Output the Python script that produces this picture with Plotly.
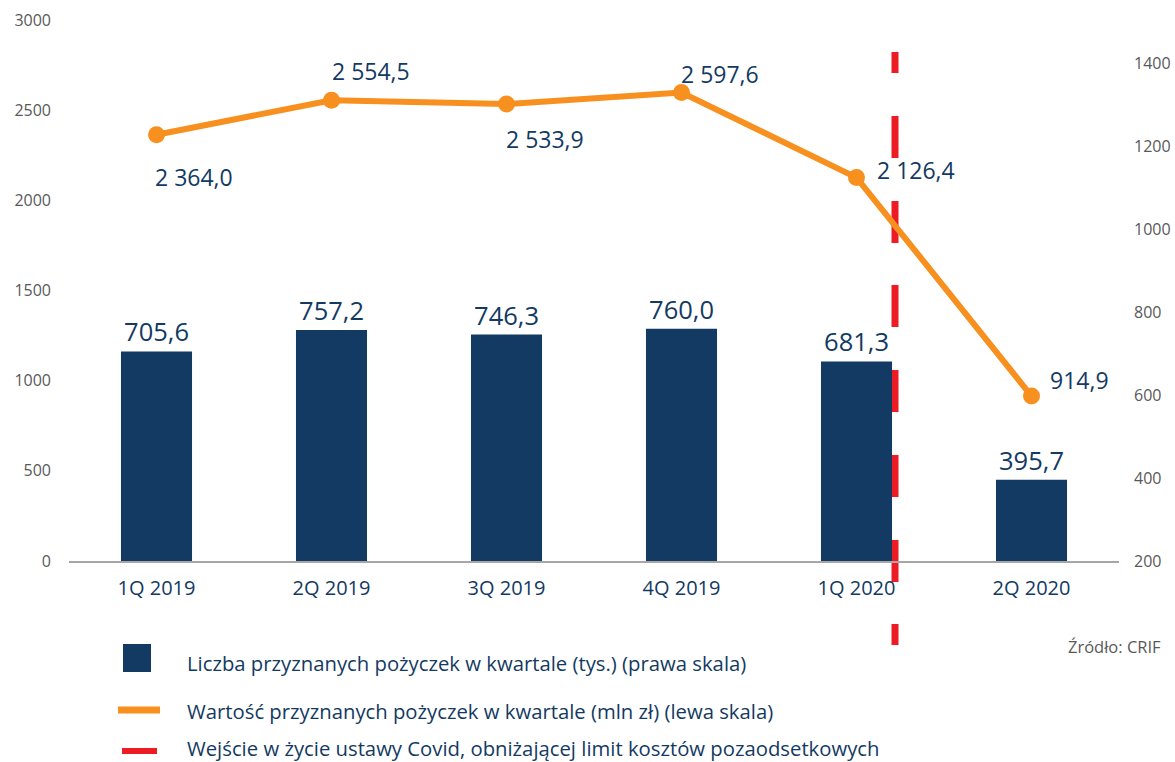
import plotly.graph_objects as go

quarters = ["1Q 2019", "2Q 2019", "3Q 2019", "4Q 2019", "1Q 2020", "2Q 2020"]
loan_counts = [705.6, 757.2, 746.3, 760.0, 681.3, 395.7]      # thousands, right axis
loan_values = [2364.0, 2554.5, 2533.9, 2597.6, 2126.4, 914.9]  # mln zł, left axis
left_ticks = [0, 500, 1000, 1500, 2000, 2500, 3000]
right_ticks = [200, 400, 600, 800, 1000, 1200, 1400]
covid_position = 4.22

legend_labels = [
    "Liczba przyznanych pożyczek w kwartale (tys.) (prawa skala)",
    "Wartość przyznanych pożyczek w kwartale (mln zł) (lewa skala)",
    "Wejście w życie ustawy Covid, obniżającej limit kosztów pozaodsetkowych",
]

NAVY = "#133A62"
ORANGE = "#F7901E"
RED = "#ED1C24"
GRAY = "#595959"
FONT = "Open Sans"

W, H = 1175, 762
L, R, T, B = 69, 1119, 20, 561


def px(x):
    return (x - L) / (R - L)


def py(y):
    return (B - y) / (B - T)


def fmt(v):
    s = f"{v:,.1f}".replace(",", " ").replace(".", ",")
    return s


fig = go.Figure()

fig.add_trace(go.Bar(
    x=quarters, y=loan_counts, yaxis="y2",
    marker=dict(color=NAVY, line=dict(width=0)),
    text=[fmt(v) for v in loan_counts], textposition="outside",
    textfont=dict(family=FONT, size=25.5, color=NAVY),
    cliponaxis=False, showlegend=False,
))

fig.add_trace(go.Scatter(
    x=quarters, y=loan_values, yaxis="y", mode="lines+markers",
    line=dict(color=ORANGE, width=6),
    marker=dict(color=ORANGE, size=17),
    cliponaxis=False, showlegend=False,
))

# line value labels (offsets relative to data points)
label_offsets = [
    (37, -42, "center"), (39, 29, "center"), (38, -35, "center"),
    (38, 19, "center"), (18, 8, "left"), (16, 16, "left"),
]
for q, v, (dx, dy, anc) in zip(quarters, loan_values, label_offsets):
    fig.add_annotation(
        x=q, y=v, xref="x", yref="y", text=fmt(v), showarrow=False,
        xanchor=anc, yanchor="middle", xshift=dx, yshift=dy,
        font=dict(family=FONT, size=23, color=NAVY),
    )

# Covid dashed line
fig.add_shape(
    type="line", xref="x", yref="paper",
    x0=covid_position, x1=covid_position, y0=py(52), y1=py(645),
    line=dict(color=RED, width=7,
              dash="21px,43px,42px,43px,42px,42px,42px,43px,42px,43px,42px,43px,42px,42px,42px,43px,21px,200px"),
    layer="below",
)

# custom legend
fig.add_shape(type="rect", xref="paper", yref="paper",
              x0=px(123), x1=px(151), y0=py(672), y1=py(644),
              fillcolor=NAVY, line=dict(width=0))
fig.add_shape(type="line", xref="paper", yref="paper",
              x0=px(118), x1=px(160), y0=py(710), y1=py(710),
              line=dict(color=ORANGE, width=7))
fig.add_shape(type="line", xref="paper", yref="paper",
              x0=px(122), x1=px(157), y0=py(751), y1=py(751),
              line=dict(color=RED, width=6))
for text, y in zip(legend_labels, [663, 711, 748]):
    fig.add_annotation(x=px(185), y=py(y), xref="paper", yref="paper",
                       text=text, showarrow=False, xanchor="left", yanchor="middle",
                       font=dict(family=FONT, size=20.3, color=NAVY))

fig.add_annotation(x=px(1163), y=py(646), xref="paper", yref="paper",
                   text="Źródło: CRIF", showarrow=False, xanchor="right", yanchor="middle",
                   font=dict(family=FONT, size=16.5, color=GRAY))

fig.update_layout(
    width=W, height=H,
    margin=dict(l=L, r=W - R, t=T, b=H - B, pad=0, autoexpand=False),
    paper_bgcolor="white", plot_bgcolor="rgba(0,0,0,0)",
    bargap=0.594, showlegend=False,
    xaxis=dict(type="category", range=[-0.5, 5.5], showline=True, linecolor="#A6A6A6",
               linewidth=1.5, showgrid=False, ticks="", ticklabelstandoff=8, automargin=False,
               tickfont=dict(family=FONT, size=20, color=NAVY)),
    yaxis=dict(range=[0, 3000], tickvals=left_ticks, showgrid=False, zeroline=False,
               showline=False, ticks="", ticklabelstandoff=17, automargin=False,
               tickfont=dict(family=FONT, size=16, color=GRAY)),
    yaxis2=dict(range=[200, 1505], tickvals=right_ticks, overlaying="y", side="right",
                showgrid=False, zeroline=False, showline=False, ticks="", ticklabelstandoff=14,
                automargin=False, tickfont=dict(family=FONT, size=16, color=GRAY)),
)

fig.write_html("out.html")
